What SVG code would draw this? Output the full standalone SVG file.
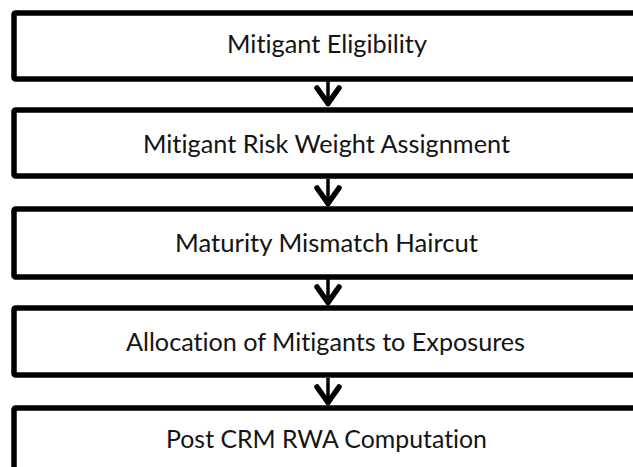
<svg xmlns="http://www.w3.org/2000/svg" width="633" height="467" viewBox="0 0 633 467">
  <style>
    .box { fill: #ffffff; stroke: #000000; stroke-width: 5.5; stroke-linejoin: round; }
    .lbl { font-family: Lato, "Open Sans", "Liberation Sans", sans-serif; font-size: 24.5px; fill: #141414; font-variant-ligatures: none; font-feature-settings: "liga" 0, "clig" 0; }
    .conn { stroke: #000000; stroke-width: 3.5; fill: none; }
  </style>
  <defs>
    <marker id="arrow" markerUnits="userSpaceOnUse" markerWidth="40" markerHeight="40" refX="0" refY="0" orient="auto" viewBox="-30 -20 40 40" overflow="visible">
      <path d="M-18,-11 L-2.5,0 L-18,11" fill="none" stroke="#000000" stroke-width="5.5" stroke-linecap="round" stroke-linejoin="round"/>
    </marker>
  </defs>
  <rect width="633" height="467" fill="#ffffff"/>
  <g id="connectors">
    <path class="conn" d="M328,81 L328,106" marker-end="url(#arrow)"/>
    <path class="conn" d="M328,179 L328,206" marker-end="url(#arrow)"/>
    <path class="conn" d="M328,279 L328,305" marker-end="url(#arrow)"/>
    <path class="conn" d="M328,378 L328,405" marker-end="url(#arrow)"/>
  </g>
  <g id="node1">
    <rect class="box" x="14" y="13" width="640" height="66" rx="1.5"/>
    <text class="lbl" x="227" y="53" textLength="200" lengthAdjust="spacingAndGlyphs">Mitigant Eligibility</text>
  </g>
  <g id="node2">
    <rect class="box" x="14" y="110" width="640" height="66" rx="1.5"/>
    <text class="lbl" x="143" y="153" textLength="367" lengthAdjust="spacingAndGlyphs">Mitigant Risk Weight Assignment</text>
  </g>
  <g id="node3">
    <rect class="box" x="14" y="209" width="640" height="68" rx="1.5"/>
    <text class="lbl" x="175" y="252" textLength="303" lengthAdjust="spacingAndGlyphs">Maturity Mismatch Haircut</text>
  </g>
  <g id="node4">
    <rect class="box" x="14" y="308" width="640" height="67" rx="1.5"/>
    <text class="lbl" x="126" y="351" textLength="399" lengthAdjust="spacingAndGlyphs">Allocation of Mitigants to Exposures</text>
  </g>
  <g id="node5">
    <rect class="box" x="14" y="408" width="640" height="80" rx="1.5"/>
    <text class="lbl" x="166" y="448" textLength="321" lengthAdjust="spacingAndGlyphs">Post CRM RWA Computation</text>
  </g>
</svg>
